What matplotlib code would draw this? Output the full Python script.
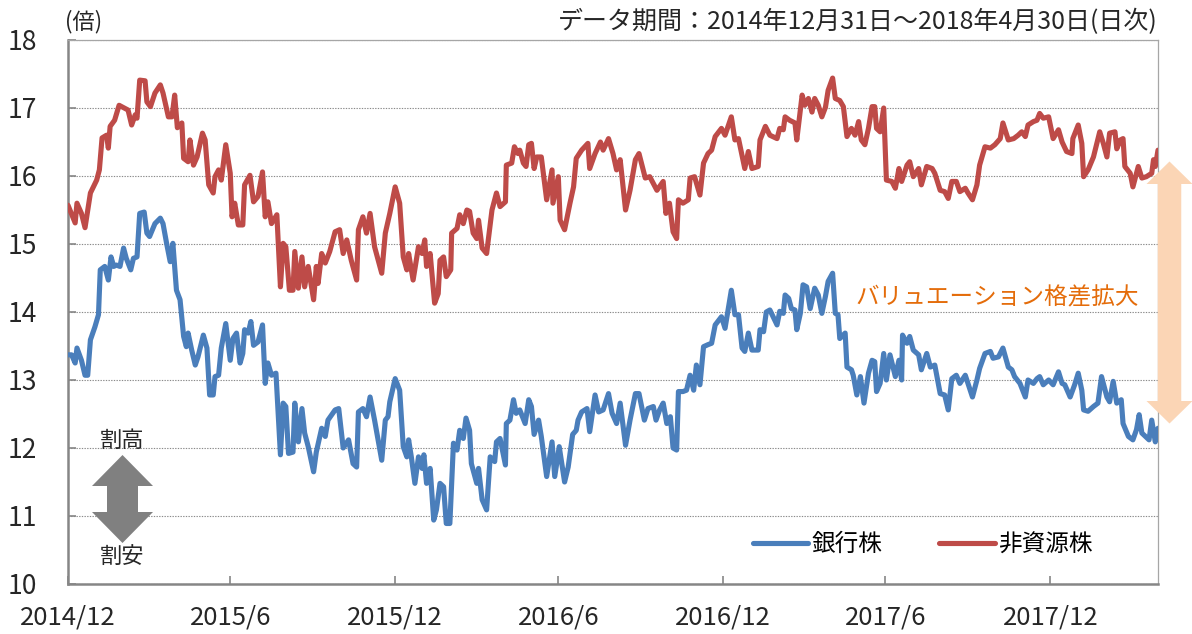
import matplotlib
matplotlib.use("Agg")
import matplotlib.pyplot as plt
from matplotlib.patches import Polygon
import pandas as pd

plt.rcParams['font.family'] = ['Noto Sans CJK JP', 'DejaVu Sans']

W, H = 1192, 634

# 銀行株 (banks) - forward PER
bank_dates = [
    "2014-12-31", "2015-01-04", "2015-01-08", "2015-01-10", "2015-01-15", "2015-01-19", "2015-01-22", "2015-01-25",
    "2015-01-30", "2015-02-03", "2015-02-05", "2015-02-10", "2015-02-14", "2015-02-17", "2015-02-20", "2015-02-23",
    "2015-02-27", "2015-03-03", "2015-03-06", "2015-03-11", "2015-03-14", "2015-03-18", "2015-03-21", "2015-03-26",
    "2015-03-29", "2015-04-01", "2015-04-07", "2015-04-13", "2015-04-16", "2015-04-20", "2015-04-24", "2015-04-27",
    "2015-05-01", "2015-05-05", "2015-05-09", "2015-05-12", "2015-05-14", "2015-05-18", "2015-05-22", "2015-05-25",
    "2015-05-31", "2015-06-04", "2015-06-07", "2015-06-11", "2015-06-13", "2015-06-17", "2015-06-20", "2015-06-25",
    "2015-06-30", "2015-07-03", "2015-07-07", "2015-07-11", "2015-07-14", "2015-07-16", "2015-07-20", "2015-07-23",
    "2015-07-26", "2015-07-31", "2015-08-05", "2015-08-08", "2015-08-11", "2015-08-15", "2015-08-20", "2015-08-25",
    "2015-08-28", "2015-08-31", "2015-09-03", "2015-09-08", "2015-09-10", "2015-09-14", "2015-09-18", "2015-09-21",
    "2015-09-25", "2015-10-01", "2015-10-04", "2015-10-10", "2015-10-14", "2015-10-17", "2015-10-25", "2015-10-29",
    "2015-11-03", "2015-11-09", "2015-11-14", "2015-11-18", "2015-11-20", "2015-11-25", "2015-11-29", "2015-12-03",
    "2015-12-08", "2015-12-16", "2015-12-20", "2015-12-23", "2015-12-25", "2015-12-31",
    "2016-01-05", "2016-01-09", "2016-01-13", "2016-01-15", "2016-01-18", "2016-01-22", "2016-01-26", "2016-01-30",
    "2016-02-01", "2016-02-04", "2016-02-08", "2016-02-12", "2016-02-15", "2016-02-19", "2016-02-23", "2016-02-26",
    "2016-03-01", "2016-03-05", "2016-03-09", "2016-03-12", "2016-03-16", "2016-03-19", "2016-03-23", "2016-03-25",
    "2016-03-31", "2016-04-02", "2016-04-06", "2016-04-11", "2016-04-15", "2016-04-20", "2016-04-22", "2016-04-26",
    "2016-05-02", "2016-05-03", "2016-05-07", "2016-05-11", "2016-05-14", "2016-05-18", "2016-05-24", "2016-05-28",
    "2016-05-31", "2016-06-03", "2016-06-08", "2016-06-11", "2016-06-17", "2016-06-23", "2016-06-26", "2016-07-01",
    "2016-07-07", "2016-07-11", "2016-07-16", "2016-07-20", "2016-07-22", "2016-07-26", "2016-08-01", "2016-08-04",
    "2016-08-10", "2016-08-14", "2016-08-19", "2016-08-25", "2016-08-29", "2016-09-03", "2016-09-07", "2016-09-13",
    "2016-09-18", "2016-09-24", "2016-09-28", "2016-10-04", "2016-10-08", "2016-10-14", "2016-10-17", "2016-10-21",
    "2016-10-25", "2016-10-29", "2016-11-02", "2016-11-05", "2016-11-09", "2016-11-11", "2016-11-16", "2016-11-20",
    "2016-11-24", "2016-11-28", "2016-12-01", "2016-12-05", "2016-12-09", "2016-12-14", "2016-12-18", "2016-12-22",
    "2016-12-29",
    "2017-01-02", "2017-01-09", "2017-01-13", "2017-01-17", "2017-01-21", "2017-01-24", "2017-01-28", "2017-02-01",
    "2017-02-08", "2017-02-10", "2017-02-14", "2017-02-17", "2017-02-21", "2017-03-01", "2017-03-04", "2017-03-08",
    "2017-03-10", "2017-03-14", "2017-03-17", "2017-03-21", "2017-03-23", "2017-03-27", "2017-03-30", "2017-04-03",
    "2017-04-07", "2017-04-12", "2017-04-16", "2017-04-20", "2017-04-24", "2017-04-27", "2017-05-02", "2017-05-05",
    "2017-05-08", "2017-05-10", "2017-05-16", "2017-05-18", "2017-05-23", "2017-05-25", "2017-05-29", "2017-06-02",
    "2017-06-06", "2017-06-11", "2017-06-15", "2017-06-18", "2017-06-20", "2017-06-24", "2017-06-28", "2017-07-01",
    "2017-07-05", "2017-07-11", "2017-07-15", "2017-07-18", "2017-07-19", "2017-07-24", "2017-07-27", "2017-07-31",
    "2017-08-06", "2017-08-09", "2017-08-15", "2017-08-19", "2017-08-24", "2017-08-30", "2017-09-04", "2017-09-08",
    "2017-09-12", "2017-09-17", "2017-09-21", "2017-09-27", "2017-09-30", "2017-10-05", "2017-10-10", "2017-10-13",
    "2017-10-19", "2017-10-25", "2017-10-28", "2017-11-03", "2017-11-08", "2017-11-14", "2017-11-18", "2017-11-21",
    "2017-11-27", "2017-12-03", "2017-12-06", "2017-12-12", "2017-12-16", "2017-12-19", "2017-12-23", "2017-12-29",
    "2018-01-03", "2018-01-09", "2018-01-13", "2018-01-16", "2018-01-22", "2018-01-27", "2018-01-31", "2018-02-04",
    "2018-02-06", "2018-02-11", "2018-02-17", "2018-02-22", "2018-02-26", "2018-03-04", "2018-03-07", "2018-03-11",
    "2018-03-15", "2018-03-20", "2018-03-22", "2018-03-28", "2018-04-02", "2018-04-06", "2018-04-09", "2018-04-12",
    "2018-04-20", "2018-04-23", "2018-04-27", "2018-04-30",
]
bank_per = [
    13.37, 13.37, 13.25, 13.47, 13.29, 13.07, 13.07, 13.59,
    13.78, 13.96, 14.62, 14.67, 14.47, 14.81, 14.67, 14.69,
    14.67, 14.94, 14.79, 14.62, 14.79, 14.81, 15.45, 15.47,
    15.16, 15.11, 15.30, 15.38, 15.30, 15.01, 14.74, 15.01,
    14.32, 14.18, 13.64, 13.49, 13.69, 13.44, 13.22, 13.34,
    13.66, 13.47, 12.78, 12.78, 13.05, 13.07, 13.47, 13.83,
    13.29, 13.61, 13.69, 13.25, 13.39, 13.74, 13.69, 13.86,
    13.51, 13.56, 13.81, 12.95, 13.25, 13.07, 13.10, 11.90,
    12.66, 12.61, 11.92, 11.94, 12.66, 12.09, 12.58, 12.22,
    12.02, 11.65, 11.94, 12.29, 12.17, 12.41, 12.56, 12.58,
    12.00, 12.12, 11.77, 11.72, 12.53, 12.58, 12.46, 12.75,
    12.41, 11.82, 12.41, 12.46, 12.68, 13.02,
    12.85, 12.02, 11.87, 12.12, 11.87, 11.48, 11.87, 11.70,
    11.90, 11.48, 11.70, 10.94, 11.09, 11.48, 11.43, 10.89,
    10.89, 12.07, 11.97, 12.26, 12.14, 12.44, 12.26, 11.77,
    11.48, 11.70, 11.24, 11.09, 11.87, 11.80, 12.09, 12.14,
    11.75, 12.36, 12.41, 12.71, 12.51, 12.56, 12.36, 12.71,
    12.61, 12.20, 12.41, 12.17, 11.58, 12.09, 11.58, 12.02,
    11.50, 11.72, 12.20, 12.26, 12.41, 12.53, 12.58, 12.24,
    12.78, 12.53, 12.56, 12.80, 12.51, 12.36, 12.66, 12.04,
    12.41, 12.80, 12.80, 12.41, 12.58, 12.61, 12.41, 12.56,
    12.66, 12.36, 12.46, 12.00, 11.97, 12.83, 12.83, 12.85,
    13.07, 12.85, 13.22, 12.93, 13.49, 13.52, 13.54, 13.81,
    13.93,
    13.76, 14.32, 13.96, 13.96, 13.47, 13.42, 13.69, 13.44,
    13.44, 13.74, 13.71, 14.00, 14.03, 13.81, 14.01, 13.98,
    14.25, 14.20, 14.05, 14.03, 13.74, 13.98, 14.40, 14.37,
    14.05, 14.35, 14.25, 13.98, 14.23, 14.45, 14.57, 13.98,
    13.96, 13.61, 13.69, 13.19, 13.15, 13.07, 12.78, 13.05,
    12.66, 13.10, 13.29, 13.27, 12.83, 12.95, 13.39, 13.00,
    13.37, 13.05, 13.29, 13.00, 13.66, 13.54, 13.64, 13.44,
    13.37, 13.15, 13.39, 13.19, 13.22, 12.80, 12.78, 12.56,
    13.02, 13.07, 12.95, 13.07, 12.95, 12.75, 13.00, 13.17,
    13.39, 13.42, 13.32, 13.34, 13.47, 13.19, 13.15, 13.05,
    12.95, 12.75, 13.00, 12.95, 13.02, 13.05, 12.93, 13.00,
    12.93, 13.12, 12.95, 12.93, 12.75, 12.93, 13.10, 12.85,
    12.56, 12.54, 12.61, 12.66, 13.05, 12.75, 12.68, 12.98,
    12.66, 12.71, 12.36, 12.17, 12.12, 12.27, 12.49, 12.22,
    12.12, 12.41, 12.09, 12.29,
]

# 非資源株 (non-resource stocks)
nonres_dates = [
    "2014-12-31", "2015-01-08", "2015-01-10", "2015-01-15", "2015-01-19", "2015-01-25", "2015-02-01", "2015-02-04",
    "2015-02-07", "2015-02-12", "2015-02-14", "2015-02-16", "2015-02-21", "2015-02-26", "2015-03-05", "2015-03-08",
    "2015-03-12", "2015-03-16", "2015-03-18", "2015-03-21", "2015-03-27", "2015-03-29", "2015-04-02", "2015-04-07",
    "2015-04-13", "2015-04-16", "2015-04-22", "2015-04-26", "2015-04-29", "2015-05-02", "2015-05-07", "2015-05-09",
    "2015-05-14", "2015-05-16", "2015-05-20", "2015-05-24", "2015-05-30", "2015-06-02", "2015-06-06", "2015-06-11",
    "2015-06-13", "2015-06-17", "2015-06-20", "2015-06-25", "2015-06-30", "2015-07-02", "2015-07-05", "2015-07-09",
    "2015-07-14", "2015-07-16", "2015-07-22", "2015-07-26", "2015-07-31", "2015-08-05", "2015-08-08", "2015-08-11",
    "2015-08-15", "2015-08-21", "2015-08-25", "2015-08-28", "2015-08-31", "2015-09-04", "2015-09-08", "2015-09-10",
    "2015-09-14", "2015-09-18", "2015-09-21", "2015-09-25", "2015-10-01", "2015-10-04", "2015-10-06", "2015-10-10",
    "2015-10-14", "2015-10-19", "2015-10-25", "2015-10-30", "2015-11-03", "2015-11-07", "2015-11-12", "2015-11-18",
    "2015-11-20", "2015-11-25", "2015-11-29", "2015-12-03", "2015-12-08", "2015-12-16", "2015-12-20", "2015-12-25",
    "2015-12-31",
    "2016-01-05", "2016-01-09", "2016-01-13", "2016-01-15", "2016-01-20", "2016-01-26", "2016-01-30", "2016-02-02",
    "2016-02-04", "2016-02-08", "2016-02-13", "2016-02-17", "2016-02-19", "2016-02-23", "2016-02-26", "2016-03-02",
    "2016-03-03", "2016-03-09", "2016-03-12", "2016-03-16", "2016-03-20", "2016-03-23", "2016-03-27", "2016-03-31",
    "2016-04-02", "2016-04-06", "2016-04-11", "2016-04-17", "2016-04-22", "2016-04-26", "2016-05-02", "2016-05-03",
    "2016-05-09", "2016-05-12", "2016-05-16", "2016-05-18", "2016-05-22", "2016-05-25", "2016-05-28", "2016-05-31",
    "2016-06-03", "2016-06-06", "2016-06-11", "2016-06-17", "2016-06-23", "2016-06-24", "2016-06-30", "2016-07-02",
    "2016-07-07", "2016-07-13", "2016-07-17", "2016-07-20", "2016-07-26", "2016-08-02", "2016-08-04", "2016-08-10",
    "2016-08-16", "2016-08-19", "2016-08-25", "2016-08-30", "2016-09-03", "2016-09-07", "2016-09-13", "2016-09-18",
    "2016-09-24", "2016-09-28", "2016-10-05", "2016-10-10", "2016-10-18", "2016-10-25", "2016-10-28", "2016-11-01",
    "2016-11-05", "2016-11-09", "2016-11-11", "2016-11-16", "2016-11-22", "2016-11-24", "2016-11-29", "2016-12-05",
    "2016-12-09", "2016-12-14", "2016-12-18", "2016-12-22", "2016-12-29",
    "2017-01-02", "2017-01-09", "2017-01-13", "2017-01-17", "2017-01-24", "2017-01-28", "2017-02-01", "2017-02-08",
    "2017-02-10", "2017-02-16", "2017-02-21", "2017-03-01", "2017-03-04", "2017-03-08", "2017-03-10", "2017-03-15",
    "2017-03-21", "2017-03-23", "2017-03-25", "2017-03-29", "2017-04-01", "2017-04-05", "2017-04-09", "2017-04-12",
    "2017-04-16", "2017-04-20", "2017-04-24", "2017-04-27", "2017-05-02", "2017-05-05", "2017-05-10", "2017-05-14",
    "2017-05-18", "2017-05-23", "2017-05-27", "2017-05-31", "2017-06-03", "2017-06-07", "2017-06-11", "2017-06-15",
    "2017-06-18", "2017-06-20", "2017-06-24", "2017-06-28", "2017-07-01", "2017-07-07", "2017-07-11", "2017-07-15",
    "2017-07-18", "2017-07-24", "2017-07-27", "2017-07-31", "2017-08-06", "2017-08-09", "2017-08-15", "2017-08-21",
    "2017-08-24", "2017-08-30", "2017-09-04", "2017-09-08", "2017-09-12", "2017-09-17", "2017-09-21", "2017-09-27",
    "2017-09-30", "2017-10-05", "2017-10-10", "2017-10-13", "2017-10-19", "2017-10-25", "2017-10-30", "2017-11-05",
    "2017-11-08", "2017-11-14", "2017-11-20", "2017-11-25", "2017-11-29", "2017-12-03", "2017-12-06", "2017-12-12",
    "2017-12-16", "2017-12-19", "2017-12-23", "2017-12-29",
    "2018-01-03", "2018-01-09", "2018-01-13", "2018-01-18", "2018-01-24", "2018-01-25", "2018-01-31", "2018-02-04",
    "2018-02-06", "2018-02-11", "2018-02-17", "2018-02-24", "2018-02-28", "2018-03-04", "2018-03-07", "2018-03-13",
    "2018-03-15", "2018-03-19", "2018-03-22", "2018-03-24", "2018-03-30", "2018-04-02", "2018-04-08", "2018-04-12",
    "2018-04-17", "2018-04-23", "2018-04-25", "2018-04-27", "2018-04-30",
]
nonres_per = [
    15.57, 15.31, 15.60, 15.45, 15.24, 15.75, 15.94, 16.09,
    16.56, 16.60, 16.41, 16.73, 16.82, 17.04, 16.99, 16.97,
    16.75, 16.90, 16.85, 17.41, 17.40, 17.09, 17.02, 17.22,
    17.34, 17.22, 16.87, 16.87, 17.19, 16.71, 16.78, 16.26,
    16.21, 16.53, 16.16, 16.28, 16.63, 16.53, 15.87, 15.75,
    15.99, 16.09, 15.94, 16.46, 16.04, 15.40, 15.60, 15.28,
    15.28, 15.87, 16.01, 15.62, 15.70, 16.06, 15.40, 15.62,
    15.30, 15.43, 14.37, 15.01, 14.96, 14.32, 14.32, 14.89,
    14.35, 14.81, 14.37, 14.67, 14.18, 14.67, 14.42, 14.86,
    14.72, 14.89, 15.18, 15.21, 14.86, 15.06, 14.76, 14.47,
    15.21, 15.40, 15.16, 15.45, 14.96, 14.57, 15.16, 15.45,
    15.84,
    15.60, 14.81, 14.62, 14.86, 14.47, 14.96, 14.86, 15.06,
    14.67, 14.86, 14.13, 14.27, 14.76, 14.81, 14.52, 14.62,
    15.16, 15.23, 15.43, 15.30, 15.50, 15.48, 15.16, 15.08,
    15.35, 14.94, 14.86, 15.50, 15.75, 15.55, 15.62, 16.16,
    16.19, 16.43, 16.33, 16.38, 16.19, 16.14, 16.46, 16.48,
    16.11, 16.28, 16.28, 15.65, 16.09, 15.60, 15.99, 15.35,
    15.21, 15.60, 15.84, 16.26, 16.38, 16.48, 16.11, 16.33,
    16.50, 16.38, 16.55, 16.33, 16.09, 16.24, 15.50, 15.79,
    16.24, 16.33, 15.97, 15.99, 15.79, 15.92, 15.45, 15.60,
    15.18, 15.08, 15.65, 15.60, 15.65, 15.97, 15.99, 15.72,
    16.19, 16.33, 16.38, 16.58, 16.70,
    16.60, 16.87, 16.53, 16.55, 16.11, 16.36, 16.11, 16.14,
    16.53, 16.73, 16.60, 16.55, 16.70, 16.68, 16.87, 16.82,
    16.78, 16.53, 16.75, 17.19, 17.04, 17.14, 16.94, 17.14,
    17.04, 16.87, 17.01, 17.26, 17.44, 17.14, 17.11, 17.02,
    16.58, 16.70, 16.60, 16.80, 16.53, 16.46, 16.70, 17.02,
    17.02, 16.70, 16.65, 17.00, 15.94, 15.92, 15.82, 16.11,
    15.92, 16.16, 16.21, 15.99, 16.11, 15.87, 16.14, 16.11,
    16.04, 15.79, 15.77, 15.67, 15.92, 15.92, 15.77, 15.82,
    15.75, 15.65, 15.87, 16.16, 16.43, 16.41, 16.46, 16.55,
    16.78, 16.53, 16.55, 16.60, 16.65, 16.58, 16.75, 16.80,
    16.82, 16.92, 16.85, 16.87,
    16.55, 16.68, 16.50, 16.36, 16.33, 16.55, 16.75, 16.48,
    15.99, 16.09, 16.28, 16.65, 16.48, 16.28, 16.63, 16.65,
    16.40, 16.53, 16.55, 16.14, 16.04, 15.84, 16.14, 15.97,
    15.99, 16.04, 16.24, 16.14, 16.38,
]

series_labels = ["銀行株", "非資源株"]
series_colors = ["#4A7EBB", "#BE4B48"]
tick_dates = ["2014-12-31", "2015-06-30", "2015-12-31", "2016-06-30",
              "2016-12-31", "2017-06-30", "2017-12-31"]
tick_labels = ["2014/12", "2015/6", "2015/12", "2016/6", "2016/12", "2017/6", "2017/12"]
y_ticks = [10, 11, 12, 13, 14, 15, 16, 17, 18]


def px_poly(points):
    # points given in image pixels (y down) -> figure fraction
    return [(x / W, 1 - y / H) for x, y in points]


def double_arrow(fig, cx, y_top, y_bot, head_w, shaft_w, head_len, color):
    hw, sw = head_w / 2, shaft_w / 2
    pts = [(cx, y_top), (cx + hw, y_top + head_len), (cx + sw, y_top + head_len),
           (cx + sw, y_bot - head_len), (cx + hw, y_bot - head_len), (cx, y_bot),
           (cx - hw, y_bot - head_len), (cx - sw, y_bot - head_len),
           (cx - sw, y_top + head_len), (cx - hw, y_top + head_len)]
    fig.patches.append(Polygon(px_poly(pts), closed=True, facecolor=color,
                               edgecolor='none', transform=fig.transFigure, zorder=5))


fig = plt.figure(figsize=(W / 100, H / 100), dpi=100)
ax = fig.add_axes([68 / W, 1 - 584 / H, 1090 / W, 544 / H])

ax.plot(pd.to_datetime(bank_dates), bank_per, color=series_colors[0], lw=3.7,
        solid_joinstyle='round', solid_capstyle='round', label=series_labels[0], zorder=3)
ax.plot(pd.to_datetime(nonres_dates), nonres_per, color=series_colors[1], lw=3.7,
        solid_joinstyle='round', solid_capstyle='round', label=series_labels[1], zorder=3)

ax.set_xlim(pd.Timestamp("2014-12-31"), pd.Timestamp("2018-04-30"))
ax.set_ylim(10, 18)
ax.set_yticks(y_ticks)
ax.set_yticklabels([str(v) for v in y_ticks], fontsize=19, color='#262626')
ax.set_xticks(pd.to_datetime(tick_dates))
ax.set_xticklabels(tick_labels, fontsize=18.5, color='#262626')

ax.yaxis.grid(True, color='#8a8a8a', lw=0.8, ls=(0, (1.2, 1.2)))
ax.set_axisbelow(True)
ax.tick_params(axis='y', direction='in', length=6, width=1.2, color='#868686', pad=22)
ax.tick_params(axis='x', direction='in', length=6, width=1.2, color='#868686', pad=15)

for side in ['left', 'bottom']:
    ax.spines[side].set_color('#868686')
    ax.spines[side].set_linewidth(1.8)
for side in ['top', 'right']:
    ax.spines[side].set_color('#a6a6a6')
    ax.spines[side].set_linewidth(0.9)

leg = ax.legend(loc='center left', bbox_to_anchor=(0.628, 0.072), ncol=2, frameon=False,
                fontsize=17, handlelength=2.35, handletextpad=0.15, columnspacing=2.4,
                borderpad=0, borderaxespad=0)

fig.text(1158 / W, 1 - 22 / H, "データ期間：2014年12月31日～2018年4月30日(日次)",
         ha='right', va='center', fontsize=18, color='#262626')
fig.text(65 / W, 1 - 22 / H, "(倍)", ha='left', va='center', fontsize=16, color='#262626')

fig.text(122 / W, 1 - 440 / H, "割高", ha='center', va='center', fontsize=16, color='#262626')
fig.text(122 / W, 1 - 556 / H, "割安", ha='center', va='center', fontsize=16, color='#262626')
double_arrow(fig, 122.5, 455, 543, 61, 31, 31, '#808080')

fig.text(855 / W, 1 - 298 / H, "バリュエーション格差拡大", ha='left', va='center',
         fontsize=17, color='#E46C0A')
double_arrow(fig, 1169.5, 161.5, 423.5, 46, 23.5, 22.5, '#FBD5B5')

fig.savefig("out.png", dpi=100)
